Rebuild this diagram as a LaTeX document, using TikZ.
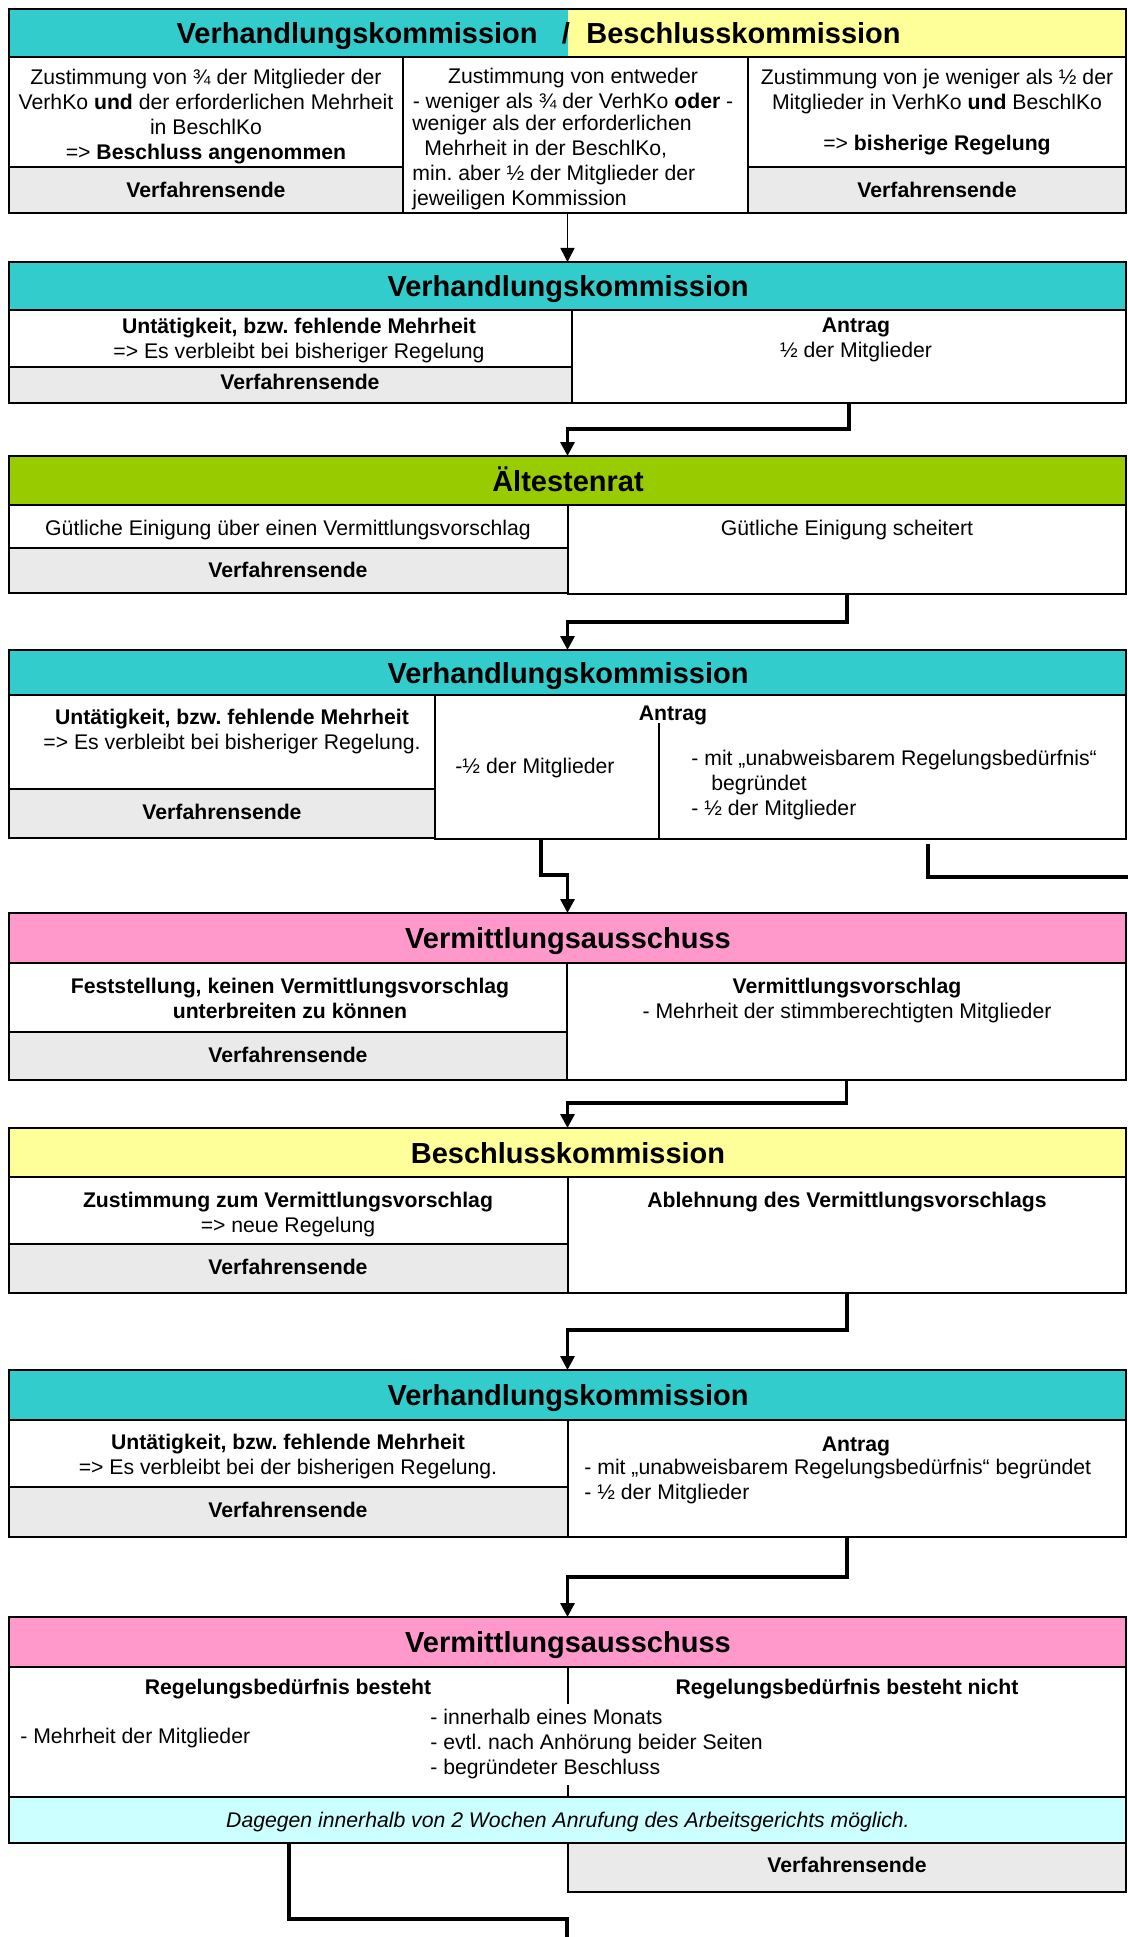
\documentclass[tikz,border=0pt]{standalone}
\usepackage{fontspec}
\setmainfont{Liberation Sans}
\usetikzlibrary{fit,arrows.meta}
\definecolor{vkc}{HTML}{33CCCC}
\definecolor{bkc}{HTML}{FFFF99}
\definecolor{arc}{HTML}{99CC00}
\definecolor{vac}{HTML}{FF99CC}
\definecolor{endc}{HTML}{EAEAEA}
\definecolor{notec}{HTML}{CCFFFF}
\begin{document}
\frenchspacing
\begin{tikzpicture}[x=0.5pt,y=-0.5pt,
  cell/.style={draw=black, line width=0.9pt, inner sep=0pt, outer sep=0pt},
  headcell/.style={cell, line width=1.2pt},
  ttl/.style={font=\fontsize{14.5}{17}\selectfont\bfseries, inner sep=0pt, anchor=base},
  tline/.style={font=\fontsize{10.6}{12.4}\selectfont, inner sep=0pt, anchor=base},
  blk/.style={font=\fontsize{10.6}{12.4}\selectfont, inner sep=0pt, align=center, anchor=north},
  lblk/.style={font=\fontsize{10.6}{12.4}\selectfont, inner sep=0pt, align=left, anchor=north west},
  conn/.style={draw=black, line width=1.6pt, -{Triangle[width=7pt,length=7pt]}},
  connthin/.style={draw=black, line width=0.85pt, -{Triangle[width=7pt,length=7pt]}},
  connfree/.style={draw=black, line width=1.6pt}
]
\fill[white] (0,0) rectangle (1128,1937);
\useasboundingbox (0,0) rectangle (1128,1937);

% ---------- Section 1
\node[inner sep=0pt, outer sep=0pt, fill=vkc, fit={(9,9)(568,57)}] (h1a) {};
\node[inner sep=0pt, outer sep=0pt, fill=bkc, fit={(568,9)(1126,57)}] (h1b) {};
\node[headcell, fit={(9,9)(1126,57)}] (h1) {};
\node[ttl, anchor=base east] (t1a) at (538,43.5) {Verhandlungskommission};
\node[ttl] (t1s) at (566,43.5) {/};
\node[ttl, anchor=base west] (t1b) at (586,43.5) {Beschlusskommission};
\node[cell, fit={(9,57)(403,167)}] (c1l) {};
\node[cell, fill=endc, fit={(9,167)(403,213)}] (e1l) {};
\node[cell, fit={(403,57)(748,213)}] (c1m) {};
\node[cell, fit={(748,57)(1126,167)}] (c1r) {};
\node[cell, fill=endc, fit={(748,167)(1126,213)}] (e1r) {};
\node[blk] (x1l) at (206,69) {Zustimmung von ¾ der Mitglieder der\\VerhKo \textbf{und} der erforderlichen Mehrheit\\in BeschlKo\\=> \textbf{Beschluss angenommen}};
\node[tline] (v1l) at (206,197.5) {\textbf{Verfahrensende}};
\node[blk] (x1m) at (573,68) {Zustimmung von entweder\\- weniger als ¾ der VerhKo \textbf{oder} -};
\node[lblk] (x1m2) at (412,115) {weniger als der erforderlichen\\\hspace*{6pt}Mehrheit in der BeschlKo,\\min. aber ½ der Mitglieder der\\jeweiligen Kommission};
\node[blk] (x1r) at (937,69) {Zustimmung von je weniger als ½ der\\Mitglieder in VerhKo \textbf{und} BeschlKo};
\node[tline] (x1r2) at (937,150.5) {=> \textbf{bisherige Regelung}};
\node[tline] (v1r) at (937,197.5) {\textbf{Verfahrensende}};

% ---------- Section 2
\node[headcell, fill=vkc, fit={(9,262)(1126,310)}] (h2) {};
\node[ttl] (t2) at (568,296.5) {Verhandlungskommission};
\node[cell, fit={(9,310)(572,367)}] (c2l) {};
\node[cell, fill=endc, fit={(9,367)(572,403)}] (e2l) {};
\node[cell, fit={(572,310)(1126,403)}] (c2r) {};
\node[blk] (x2l) at (299,318) {\textbf{Untätigkeit, bzw. fehlende Mehrheit}\\=> Es verbleibt bei bisheriger Regelung};
\node[tline] (v2l) at (300,389.5) {\textbf{Verfahrensende}};
\node[blk] (x2r) at (856,318) {\textbf{Antrag}\\½ der Mitglieder};

% ---------- Section 3
\node[headcell, fill=arc, fit={(9,456)(1126,505)}] (h3) {};
\node[ttl] (t3) at (568,491) {Ältestenrat};
\node[cell, fit={(9,505)(568,548)}] (c3l) {};
\node[cell, fill=endc, fit={(9,548)(568,593)}] (e3l) {};
\node[cell, fit={(568,505)(1126,594)}] (c3r) {};
\node[tline] (x3l) at (288,535.5) {Gütliche Einigung über einen Vermittlungsvorschlag};
\node[tline] (v3l) at (288,577.5) {\textbf{Verfahrensende}};
\node[tline] (x3r) at (847,535.5) {Gütliche Einigung scheitert};

% ---------- Section 4
\node[headcell, fill=vkc, fit={(9,650)(1126,695)}] (h4) {};
\node[ttl] (t4) at (568,683) {Verhandlungskommission};
\node[cell, fit={(9,695)(435,789)}] (c4l) {};
\node[cell, fill=endc, fit={(9,789)(435,838)}] (e4l) {};
\node[cell, fit={(435,695)(1126,839)}] (c4r) {};
\coordinate (d4t) at (659,723);
\draw[cell] (d4t) -- (d4t |- c4r.south);
\node[tline] (a4) at (673,720.5) {\textbf{Antrag}};
\node[blk] (x4l) at (232,709) {\textbf{Untätigkeit, bzw. fehlende Mehrheit}\\=> Es verbleibt bei bisheriger Regelung.};
\node[tline] (v4l) at (222,819.5) {\textbf{Verfahrensende}};
\node[tline, anchor=base west] (x4m) at (455,773.5) {-½ der Mitglieder};
\node[lblk] (x4r) at (691,750) {- mit „unabweisbarem Regelungsbedürfnis“\\\hspace*{10pt}begründet\\- ½ der Mitglieder};
\coordinate (o4a) at (541,839);
\coordinate (o4b) at (928,844);
\coordinate (x4b) at (1128,877);

% ---------- Section 5
\node[headcell, fill=vac, fit={(9,913)(1126,963)}] (h5) {};
\node[ttl] (t5) at (568,948.5) {Vermittlungsausschuss};
\node[cell, fit={(9,963)(567,1032)}] (c5l) {};
\node[cell, fill=endc, fit={(9,1032)(567,1080)}] (e5l) {};
\node[cell, fit={(567,963)(1126,1080)}] (c5r) {};
\node[blk] (x5l) at (290,978) {\textbf{Feststellung, keinen Vermittlungsvorschlag}\\\textbf{unterbreiten zu können}};
\node[tline] (v5l) at (288,1062.5) {\textbf{Verfahrensende}};
\node[blk] (x5r) at (847,978) {\textbf{Vermittlungsvorschlag}\\- Mehrheit der stimmberechtigten Mitglieder};

% ---------- Section 6
\node[headcell, fill=bkc, fit={(9,1128)(1126,1177)}] (h6) {};
\node[ttl] (t6) at (568,1163) {Beschlusskommission};
\node[cell, fit={(9,1177)(568,1244)}] (c6l) {};
\node[cell, fill=endc, fit={(9,1244)(568,1293)}] (e6l) {};
\node[cell, fit={(568,1177)(1126,1293)}] (c6r) {};
\node[blk] (x6l) at (288,1192) {\textbf{Zustimmung zum Vermittlungsvorschlag}\\=> neue Regelung};
\node[tline] (v6l) at (288,1274.5) {\textbf{Verfahrensende}};
\node[tline] (x6r) at (847,1207.5) {\textbf{Ablehnung des Vermittlungsvorschlags}};

% ---------- Section 7
\node[headcell, fill=vkc, fit={(9,1370)(1126,1420)}] (h7) {};
\node[ttl] (t7) at (568,1405.5) {Verhandlungskommission};
\node[cell, fit={(9,1420)(568,1487)}] (c7l) {};
\node[cell, fill=endc, fit={(9,1487)(568,1537)}] (e7l) {};
\node[cell, fit={(568,1420)(1126,1537)}] (c7r) {};
\node[blk] (x7l) at (288,1434) {\textbf{Untätigkeit, bzw. fehlende Mehrheit}\\=> Es verbleibt bei der bisherigen Regelung.};
\node[tline] (v7l) at (288,1517.5) {\textbf{Verfahrensende}};
\node[tline] (a7) at (856,1451.5) {\textbf{Antrag}};
\node[lblk] (x7r) at (584,1459) {- mit „unabweisbarem Regelungsbedürfnis“ begründet\\- ½ der Mitglieder};

% ---------- Section 8
\node[headcell, fill=vac, fit={(9,1617)(1126,1667)}] (h8) {};
\node[ttl] (t8) at (568,1652.5) {Vermittlungsausschuss};
\node[cell, fit={(9,1667)(1126,1797)}] (c8) {};
\draw[cell] (568,1667) -- (568,1704);
\draw[cell] (568,1785) -- (568,1797);
\node[tline] (x8l) at (288,1694.5) {\textbf{Regelungsbedürfnis besteht}};
\node[tline] (x8r) at (847,1694.5) {\textbf{Regelungsbedürfnis besteht nicht}};
\node[tline, anchor=base west] (x8a) at (20,1743.5) {- Mehrheit der Mitglieder};
\node[lblk] (x8b) at (430,1709) {- innerhalb eines Monats\\- evtl. nach Anhörung beider Seiten\\- begründeter Beschluss};
\node[cell, fill=notec, fit={(9,1797)(1126,1843)}] (n8) {};
\node[tline] (xn8) at (568,1827.5) {\textit{Dagegen innerhalb von 2 Wochen Anrufung des Arbeitsgerichts möglich.}};
\node[cell, fill=endc, fit={(568,1843)(1126,1892)}] (e8r) {};
\node[tline] (v8r) at (847,1872.5) {\textbf{Verfahrensende}};
\coordinate (o8) at (289,1843);
\coordinate (x8) at (567,1937);

% ---------- Connectors
\draw[connthin] (c1m.south -| h2.north) -- (h2.north);
\draw[conn] (c2r.south) -- ++(0,26) -| (h3.north);
\draw[conn] (c3r.south) -- ++(0,28) -| (h4.north);
\draw[conn] (o4a) -- ++(0,36) -| (h5.north);
\draw[connfree] (o4b) |- (x4b);
\draw[conn] (c5r.south) -- ++(0,23) -| (h6.north);
\draw[conn] (c6r.south) -- ++(0,37) -| (h7.north);
\draw[conn] (c7r.south) -- ++(0,40) -| (h8.north);
\draw[connfree] (o8) -- ++(0,76) -| (x8);
\end{tikzpicture}
\end{document}
